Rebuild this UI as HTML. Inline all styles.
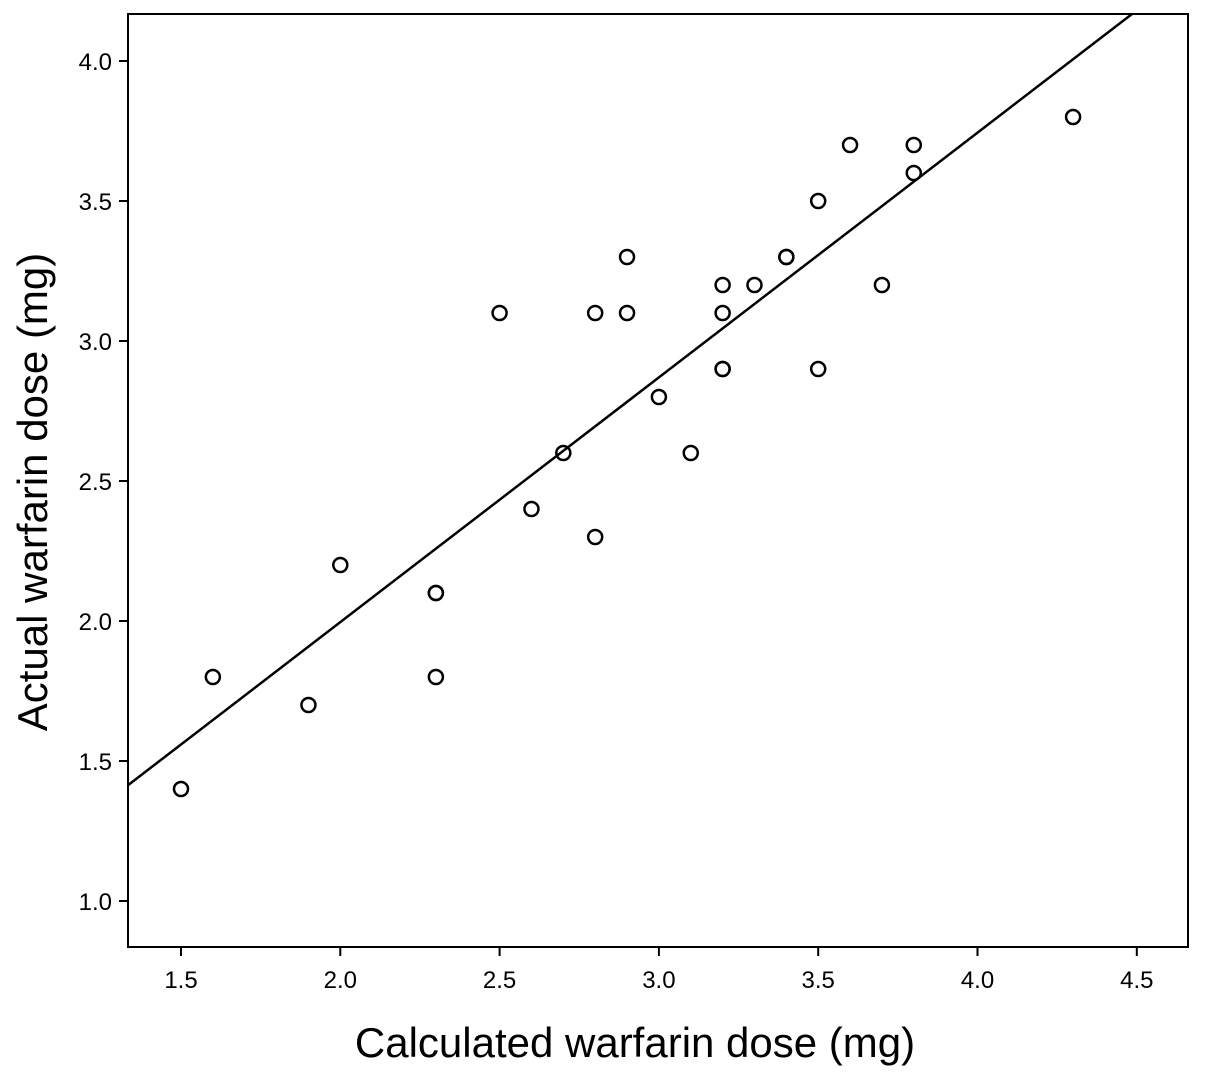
<!DOCTYPE html>
<html><head><meta charset="utf-8"><style>
html,body{margin:0;padding:0;background:#fff;}
svg{display:block;font-family:"Liberation Sans",Arial,sans-serif;}
</style></head><body>
<svg id="chart" width="1205" height="1076" viewBox="0 0 1205 1076">
<rect x="128" y="14" width="1060" height="933" fill="none" stroke="#000" stroke-width="2"/>
<g id="xticks"></g>
<g id="yticks"></g>
<g id="fit"></g>
<g id="pts"></g>
<text x="635" y="1057" font-size="42" text-anchor="middle" fill="#000">Calculated warfarin dose (mg)</text>
<text x="0" y="0" font-size="42" text-anchor="middle" fill="#000" transform="translate(47,492) rotate(-90)">Actual warfarin dose (mg)</text>
</svg>
<script>
const xTicks=[1.5,2.0,2.5,3.0,3.5,4.0,4.5];
const yTicks=[1.0,1.5,2.0,2.5,3.0,3.5,4.0];
const calcDose=[1.5,1.6,1.9,2.0,2.3,2.3,2.3,2.5,2.6,2.7,2.8,2.8,2.9,2.9,3.0,3.1,3.2,3.2,3.2,3.2,3.3,3.4,3.4,3.5,3.5,3.6,3.7,3.8,3.8,4.3];
const actualDose=[1.4,1.8,1.7,2.2,2.1,2.1,1.8,3.1,2.4,2.6,3.1,2.3,3.3,3.1,2.8,2.6,3.2,3.1,2.9,2.9,3.2,3.3,3.3,3.5,2.9,3.7,3.2,3.7,3.6,3.8];
const fitSlope=0.874, fitIntercept=0.248;
const NS="http://www.w3.org/2000/svg";
const X=v=>181+(v-1.5)*318.6;
const Y=v=>901-(v-1)*280;
function mk(t,a,p){const e=document.createElementNS(NS,t);for(const k in a)e.setAttribute(k,a[k]);p.appendChild(e);return e;}
const gx=document.getElementById('xticks'),gy=document.getElementById('yticks'),gf=document.getElementById('fit'),gp=document.getElementById('pts');
xTicks.forEach(v=>{
 const l=mk('line',{x1:X(v),x2:X(v),y1:947,y2:956,stroke:'#000','stroke-width':2},gx);
 
 
 const t=mk('text',{x:X(v),y:988,'font-size':24,'text-anchor':'middle'},gx);t.textContent=v.toFixed(1);
 
 
});
yTicks.forEach(v=>{
 const l=mk('line',{x1:119,x2:128,y1:Y(v),y2:Y(v),stroke:'#000','stroke-width':2},gy);
 
 
 const t=mk('text',{x:112,y:Y(v)+9,'font-size':24,'text-anchor':'end'},gy);t.textContent=v.toFixed(1);
 
 
});
const x0=1.334, yTop=(901-14)/280+1;
const x1=(yTop-fitIntercept)/fitSlope;
const fl=mk('line',{x1:X(x0),y1:Y(fitSlope*x0+fitIntercept),x2:X(x1),y2:Y(yTop),stroke:'#000','stroke-width':2.5},gf);


calcDose.forEach((v,i)=>{
 const c=mk('circle',{cx:X(v),cy:Y(actualDose[i]),r:7,fill:'none',stroke:'#000','stroke-width':2.5},gp);
 
 
});
</script>
</body></html>
